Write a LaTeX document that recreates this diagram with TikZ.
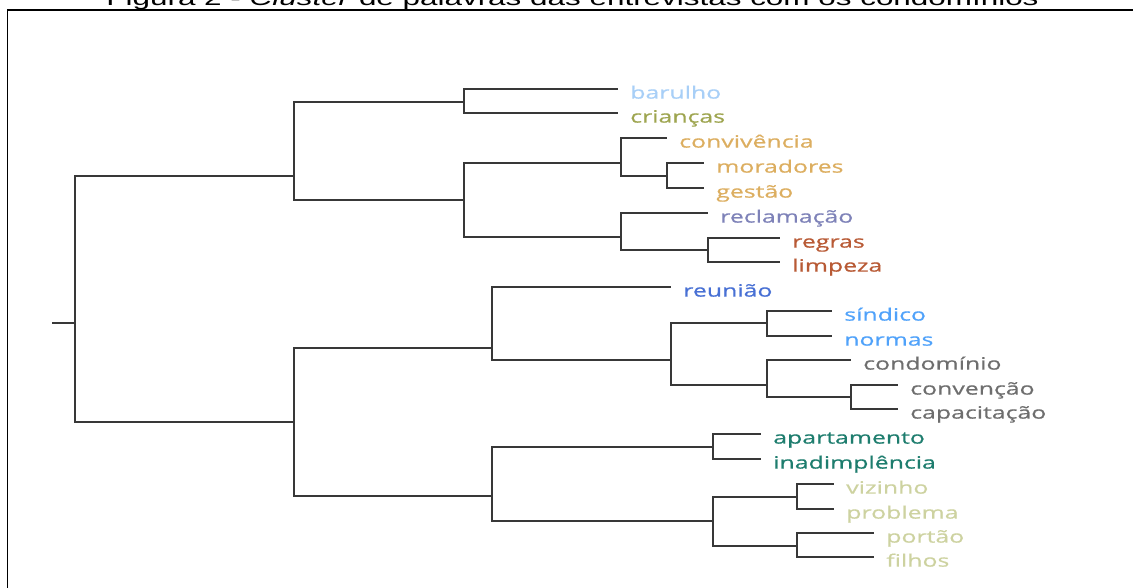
\documentclass[tikz,border=0pt]{standalone}
\usepackage{fontspec}
\setmainfont{Liberation Sans}
\newfontfamily\leaffont[FakeStretch=1.46,FakeBold=0.7]{Open Sans}
\newfontfamily\titlefont[FakeStretch=1.5]{Liberation Sans}
\usetikzlibrary{positioning}
\definecolor{cBarulho}{RGB}{168,207,247}
\definecolor{cCriancas}{RGB}{158,165,80}
\definecolor{cGestao}{RGB}{220,174,96}
\definecolor{cReclama}{RGB}{126,130,184}
\definecolor{cRegras}{RGB}{184,90,53}
\definecolor{cReuniao}{RGB}{72,112,212}
\definecolor{cSindico}{RGB}{80,162,250}
\definecolor{cCondo}{RGB}{110,110,110}
\definecolor{cApto}{RGB}{30,125,110}
\definecolor{cVizinho}{RGB}{205,210,160}

\begin{document}
\begin{tikzpicture}[x=0.025cm,y=-0.025cm,
  link/.style={draw=black!78,line width=1.4pt},
  leaf/.style={font=\leaffont\fontsize{12.1}{14}\selectfont,inner sep=0pt,
    anchor=base west,xshift=0.3cm,yshift=-0.24cm}]
  \useasboundingbox (0,0) rectangle (1133,587);
  \node[font=\titlefont\fontsize{14.9}{16}\selectfont,anchor=base,inner sep=0pt] (title)
    at (572.5,5) {Figura 2 - \textit{Cluster} de palavras das entrevistas com os condomínios};
  \draw[line width=1.4pt] (1140,10) -| (7.5,595);

  % junctions of the tree
  \coordinate (stub) at (52,323);
  \coordinate (root) at (75,323);
  \coordinate (A) at (294,176);
  \coordinate (A1) at (464,102);
  \coordinate (A2) at (464,200);
  \coordinate (B1) at (621,163);
  \coordinate (B1s) at (667,176);
  \coordinate (B2) at (621,237);
  \coordinate (B2s) at (708,250);
  \coordinate (C) at (294,422);
  \coordinate (C1) at (492,348);
  \coordinate (D) at (671,360);
  \coordinate (D1) at (767,323);
  \coordinate (D2) at (767,385);
  \coordinate (D2s) at (851,397);
  \coordinate (C2) at (492,496);
  \coordinate (E1) at (713,447);
  \coordinate (E2) at (713,521);
  \coordinate (F1) at (797,497);
  \coordinate (F2) at (797,546);

  % leaf ends
  \coordinate (e-barulho) at (618,89);
  \coordinate (e-criancas) at (618,113);
  \coordinate (e-convivencia) at (667,138);
  \coordinate (e-moradores) at (704,163);
  \coordinate (e-gestao) at (704,188);
  \coordinate (e-reclamacao) at (708,213);
  \coordinate (e-regras) at (780,238);
  \coordinate (e-limpeza) at (780,262);
  \coordinate (e-reuniao) at (671,287);
  \coordinate (e-sindico) at (832,311);
  \coordinate (e-normas) at (832,336);
  \coordinate (e-condominio) at (851,360);
  \coordinate (e-convencao) at (898,385);
  \coordinate (e-capacitacao) at (898,409);
  \coordinate (e-apartamento) at (761,434);
  \coordinate (e-inadimplencia) at (761,459);
  \coordinate (e-vizinho) at (834,484);
  \coordinate (e-problema) at (834,509);
  \coordinate (e-portao) at (874,533);
  \coordinate (e-filhos) at (874,557);

  \node[leaf,text=cBarulho] (barulho) at (e-barulho) {barulho};
  \node[leaf,text=cCriancas] (criancas) at (e-criancas) {crianças};
  \node[leaf,text=cGestao] (convivencia) at (e-convivencia) {convivência};
  \node[leaf,text=cGestao] (moradores) at (e-moradores) {moradores};
  \node[leaf,text=cGestao] (gestao) at (e-gestao) {gestão};
  \node[leaf,text=cReclama] (reclamacao) at (e-reclamacao) {reclamação};
  \node[leaf,text=cRegras] (regras) at (e-regras) {regras};
  \node[leaf,text=cRegras] (limpeza) at (e-limpeza) {limpeza};
  \node[leaf,text=cReuniao] (reuniao) at (e-reuniao) {reunião};
  \node[leaf,text=cSindico] (sindico) at (e-sindico) {síndico};
  \node[leaf,text=cSindico] (normas) at (e-normas) {normas};
  \node[leaf,text=cCondo] (condominio) at (e-condominio) {condomínio};
  \node[leaf,text=cCondo] (convencao) at (e-convencao) {convenção};
  \node[leaf,text=cCondo] (capacitacao) at (e-capacitacao) {capacitação};
  \node[leaf,text=cApto] (apartamento) at (e-apartamento) {apartamento};
  \node[leaf,text=cApto] (inadimplencia) at (e-inadimplencia) {inadimplência};
  \node[leaf,text=cVizinho] (vizinho) at (e-vizinho) {vizinho};
  \node[leaf,text=cVizinho] (problema) at (e-problema) {problema};
  \node[leaf,text=cVizinho] (portao) at (e-portao) {portão};
  \node[leaf,text=cVizinho] (filhos) at (e-filhos) {filhos};

  \draw[link] (stub) -- (root);
  \draw[link] (root) |- (A);
  \draw[link] (root) |- (C);
  \draw[link] (A) |- (A1);
  \draw[link] (A) |- (A2);
  \draw[link] (A1) |- (e-barulho);
  \draw[link] (A1) |- (e-criancas);
  \draw[link] (A2) |- (B1);
  \draw[link] (A2) |- (B2);
  \draw[link] (B1) |- (e-convivencia);
  \draw[link] (B1) |- (B1s);
  \draw[link] (B1s) |- (e-moradores);
  \draw[link] (B1s) |- (e-gestao);
  \draw[link] (B2) |- (e-reclamacao);
  \draw[link] (B2) |- (B2s);
  \draw[link] (B2s) |- (e-regras);
  \draw[link] (B2s) |- (e-limpeza);
  \draw[link] (C) |- (C1);
  \draw[link] (C) |- (C2);
  \draw[link] (C1) |- (e-reuniao);
  \draw[link] (C1) |- (D);
  \draw[link] (D) |- (D1);
  \draw[link] (D) |- (D2);
  \draw[link] (D1) |- (e-sindico);
  \draw[link] (D1) |- (e-normas);
  \draw[link] (D2) |- (e-condominio);
  \draw[link] (D2) |- (D2s);
  \draw[link] (D2s) |- (e-convencao);
  \draw[link] (D2s) |- (e-capacitacao);
  \draw[link] (C2) |- (E1);
  \draw[link] (C2) |- (E2);
  \draw[link] (E1) |- (e-apartamento);
  \draw[link] (E1) |- (e-inadimplencia);
  \draw[link] (E2) |- (F1);
  \draw[link] (E2) |- (F2);
  \draw[link] (F1) |- (e-vizinho);
  \draw[link] (F1) |- (e-problema);
  \draw[link] (F2) |- (e-portao);
  \draw[link] (F2) |- (e-filhos);
\end{tikzpicture}
\end{document}
